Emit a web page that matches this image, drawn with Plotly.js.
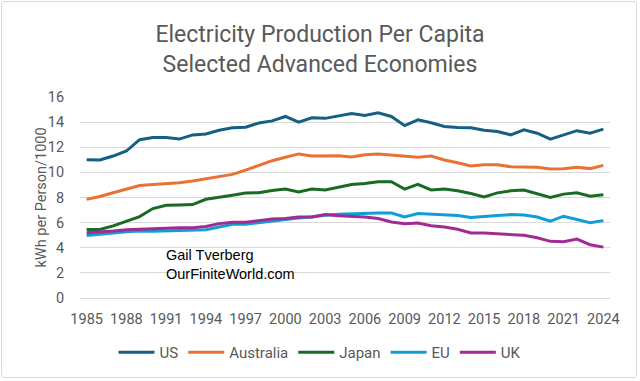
<!DOCTYPE html>
<html>
<head>
<meta charset="utf-8">
<script src="https://cdn.plot.ly/plotly-3.0.1.min.js"></script>
<style>
  html, body { margin: 0; padding: 0; background: #fff; }
  #wrap { position: relative; width: 640px; height: 381px; }
  #chart { width: 640px; height: 381px; }
  #frame { position: absolute; left: 1px; top: 1px; width: 634px; height: 375px; border: 1px solid #d9d9d9; border-radius: 3px; pointer-events: none; }
</style>
</head>
<body>
<div id="wrap"><div id="chart"></div><div id="frame"></div></div>
<script>
const years = [];
for (let y = 1985; y <= 2024; y++) years.push(y);

const us = [11.0, 10.98, 11.3, 11.7, 12.6, 12.78, 12.78, 12.65, 12.98, 13.05,
  13.35, 13.55, 13.6, 13.93, 14.1, 14.45, 14.0, 14.35, 14.3, 14.5,
  14.68, 14.52, 14.75, 14.45, 13.72, 14.18, 13.95, 13.65, 13.57, 13.55,
  13.36, 13.25, 12.99, 13.38, 13.12, 12.64, 12.98, 13.32, 13.12, 13.44];
const australia = [7.85, 8.08, 8.38, 8.65, 8.96, 9.04, 9.1, 9.18, 9.31, 9.47,
  9.66, 9.84, 10.18, 10.58, 10.93, 11.2, 11.47, 11.3, 11.3, 11.33,
  11.22, 11.4, 11.47, 11.38, 11.32, 11.2, 11.3, 10.99, 10.77, 10.51,
  10.61, 10.61, 10.45, 10.45, 10.4, 10.27, 10.29, 10.4, 10.3, 10.56];
const japan = [5.45, 5.45, 5.74, 6.08, 6.48, 7.12, 7.38, 7.4, 7.44, 7.86,
  8.05, 8.18, 8.35, 8.38, 8.55, 8.67, 8.45, 8.67, 8.59, 8.8,
  9.04, 9.12, 9.25, 9.25, 8.67, 9.04, 8.6, 8.67, 8.53, 8.32,
  8.05, 8.37, 8.53, 8.59, 8.27, 8.0, 8.27, 8.37, 8.11, 8.21];
const eu = [4.97, 5.05, 5.17, 5.28, 5.33, 5.31, 5.33, 5.39, 5.39, 5.44,
  5.65, 5.87, 5.87, 6.0, 6.1, 6.24, 6.37, 6.45, 6.59, 6.67,
  6.72, 6.77, 6.77, 6.77, 6.45, 6.72, 6.65, 6.61, 6.56, 6.4,
  6.51, 6.56, 6.64, 6.61, 6.45, 6.11, 6.51, 6.24, 6.0, 6.16];
const uk = [5.2, 5.25, 5.33, 5.44, 5.49, 5.52, 5.55, 5.6, 5.6, 5.7,
  5.92, 6.03, 6.03, 6.19, 6.29, 6.32, 6.45, 6.45, 6.65, 6.55,
  6.52, 6.45, 6.32, 6.05, 5.92, 5.97, 5.75, 5.65, 5.47, 5.17,
  5.17, 5.12, 5.07, 4.99, 4.8, 4.51, 4.48, 4.69, 4.24, 4.05];

const tickYears = [1985, 1988, 1991, 1994, 1997, 2000, 2003, 2006, 2009, 2012, 2015, 2018, 2021, 2024];
const yTicks = [0, 2, 4, 6, 8, 10, 12, 14, 16];

const seriesNames = ['US', 'Australia', 'Japan', 'EU', 'UK'];
const seriesData = [us, australia, japan, eu, uk];
const seriesColors = ['#156082', '#E97132', '#196B24', '#0F9ED5', '#A02B93'];

const FONT = 'Roboto, "Liberation Sans", sans-serif';

const traces = seriesNames.map((n, i) => ({
  type: 'scatter', mode: 'lines', name: n, x: years, y: seriesData[i],
  line: { color: seriesColors[i], width: 3 }
}));

const layout = {
  width: 640, height: 381,
  margin: { l: 80, r: 30, t: 97, b: 83 },
  paper_bgcolor: '#ffffff', plot_bgcolor: '#ffffff',
  font: { family: FONT, color: '#595959', size: 15 },
  title: {
    text: 'Electricity Production Per Capita<br>Selected Advanced Economies',
    font: { family: FONT, size: 23, color: '#595959' },
    x: 0.5, xanchor: 'center', y: 0.89, yanchor: 'middle'
  },
  xaxis: {
    range: [1984.5, 2024.5], tickmode: 'array', tickvals: tickYears,
    ticktext: tickYears.map(String), showgrid: false, zeroline: false,
    showline: false, ticks: '', ticklabelstandoff: 10,
    tickfont: { family: FONT, size: 14.5, color: '#595959' }
  },
  yaxis: {
    range: [0, 16], tickmode: 'array', tickvals: yTicks,
    showgrid: true, gridcolor: '#d9d9d9', gridwidth: 1,
    zeroline: true, zerolinecolor: '#d9d9d9', zerolinewidth: 1,
    showline: false, ticks: 'outside', ticklen: 12, tickcolor: 'rgba(0,0,0,0)',
    tickfont: { family: FONT, size: 14.5, color: '#595959' }
  },
  showlegend: true,
  legend: {
    orientation: 'h', x: 0.5, xanchor: 'center', xref: 'container',
    y: 0.075, yanchor: 'middle', yref: 'container', itemwidth: 36,
    font: { family: FONT, size: 15, color: '#595959' }
  },
  annotations: [
    { text: 'kWh per Person/1000', textangle: -90, xref: 'paper', yref: 'paper',
      x: -0.0717, y: 0.5, xanchor: 'center', yanchor: 'middle', showarrow: false,
      font: { family: FONT, size: 14.5, color: '#595959' } },
    { text: 'Gail Tverberg<br>OurFiniteWorld.com', xref: 'paper', yref: 'paper',
      x: 0.159, y: 0.169, xanchor: 'left', yanchor: 'middle', align: 'left', showarrow: false,
      font: { family: '"Liberation Sans", Arial, sans-serif', size: 14.5, color: '#000000' } }
  ]
};

Plotly.newPlot('chart', traces, layout, { displayModeBar: false, staticPlot: true });
</script>
</body>
</html>
